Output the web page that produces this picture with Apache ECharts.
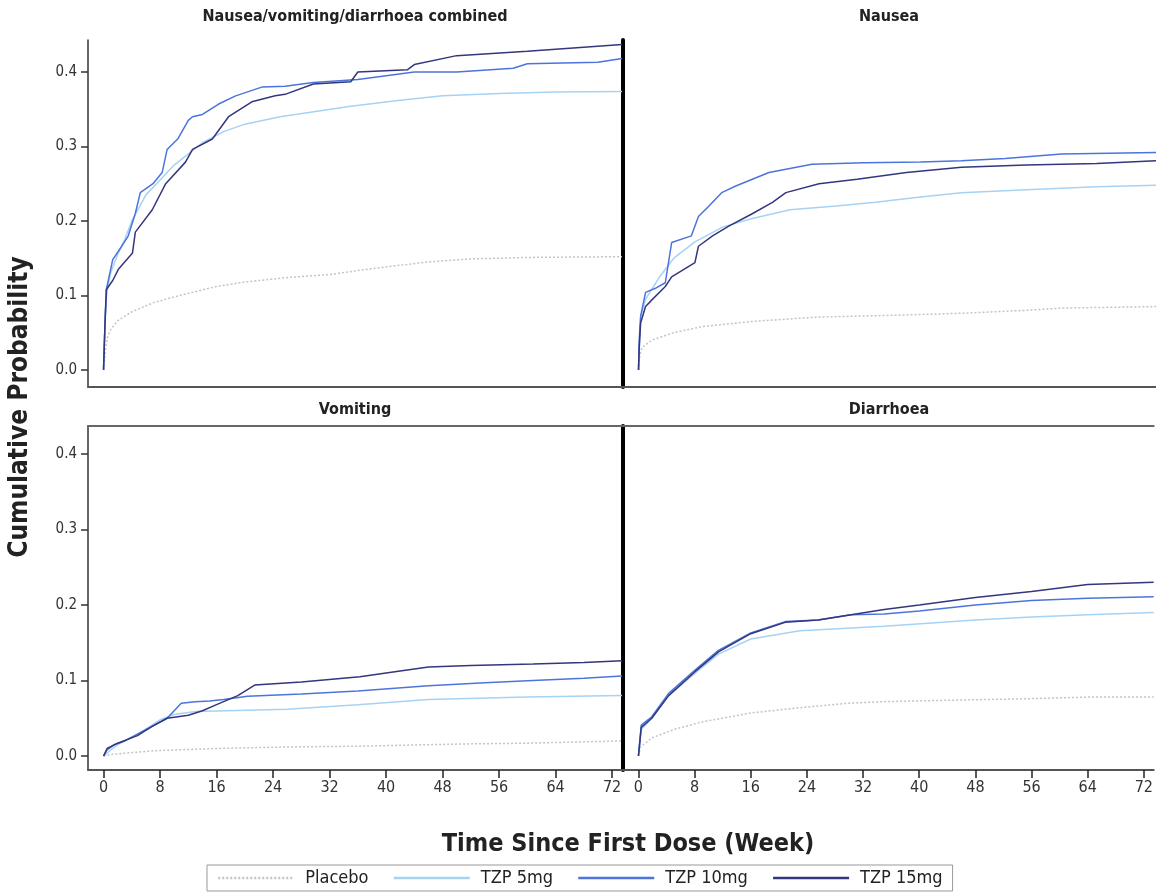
<!DOCTYPE html>
<html style="height: 100%">
<head>
    <meta charset="UTF-8">
    <title>Cumulative probability</title>
</head>
<body style="height: 100%; margin: 0; background: #fff">
<div id="container" style="width: 1156px; height: 894px"></div>
<script src="https://cdn.jsdelivr.net/npm/echarts@6/dist/echarts.min.js"></script>
<script>
    // tick values
    var weekTicks = [0, 8, 16, 24, 32, 40, 48, 56, 64, 72];
    var probTicks = [0, 0.1, 0.2, 0.3, 0.4];

    var panelTitles = ['Nausea/vomiting/diarrhoea combined', 'Nausea', 'Vomiting', 'Diarrhoea'];
    var groupNames = ['Placebo', 'TZP 5mg', 'TZP 10mg', 'TZP 15mg'];

    // [week, cumulative probability]
    var combinedPlacebo = [[0,0],[0.3,0.03],[0.6,0.045],[1,0.054],[2,0.066],[4,0.078],[7,0.09],[10,0.098],[13,0.105],[16,0.112],[20,0.118],[26,0.124],[32,0.128],[38,0.136],[46,0.145],[52,0.149],[60,0.151],[73.4,0.152]];
    var combined5 = [[0,0],[0.3,0.09],[0.6,0.11],[1,0.13],[2,0.155],[3,0.175],[4,0.2],[6,0.235],[8,0.255],[10,0.275],[12,0.29],[14,0.305],[17,0.32],[20,0.33],[25,0.34],[30,0.347],[35,0.354],[42,0.362],[48,0.368],[56,0.371],[64,0.373],[73.4,0.374]];
    var combined10 = [[0,0],[0.2,0.06],[0.4,0.108],[1.3,0.148],[2.5,0.165],[3.5,0.18],[4.5,0.21],[5.2,0.238],[7,0.25],[8.3,0.265],[9,0.296],[10.5,0.31],[12,0.335],[12.6,0.34],[14,0.343],[16.3,0.357],[18.7,0.368],[22.5,0.38],[25.7,0.381],[29.7,0.386],[36,0.39],[44,0.4],[50,0.4],[58,0.405],[60,0.411],[70,0.413],[73.4,0.418]];
    var combined15 = [[0,0],[0.2,0.06],[0.4,0.108],[1.3,0.12],[2.1,0.135],[4.1,0.157],[4.5,0.185],[6.9,0.215],[8.8,0.25],[11.6,0.279],[12.6,0.296],[15.4,0.31],[17.7,0.34],[21,0.36],[24.3,0.368],[25.7,0.37],[29.7,0.384],[35,0.387],[36,0.4],[43,0.403],[44,0.41],[50,0.422],[60,0.428],[66,0.432],[73.4,0.437]];

    var nauseaPlacebo = [[0,0],[0.2,0.02],[0.5,0.03],[1.9,0.04],[5,0.05],[9,0.058],[16,0.065],[25.6,0.071],[35,0.073],[45.8,0.076],[55,0.08],[60,0.083],[73.4,0.085]];
    var nausea5 = [[0,0],[0.3,0.07],[1,0.095],[3,0.125],[5,0.15],[8,0.172],[12,0.192],[16,0.203],[21.5,0.215],[28,0.22],[33.6,0.225],[40,0.232],[45.8,0.238],[55,0.242],[65,0.246],[73.4,0.248]];
    var nausea10 = [[0,0],[0.1,0.04],[0.3,0.072],[1,0.104],[2.5,0.11],[3.8,0.117],[4.7,0.171],[7.5,0.18],[8.5,0.206],[10,0.22],[11.8,0.238],[13.8,0.247],[18.5,0.265],[24.6,0.276],[32,0.278],[40,0.279],[45.8,0.281],[52,0.284],[60,0.29],[73.4,0.292]];
    var nausea15 = [[0,0],[0.1,0.03],[0.3,0.063],[1,0.085],[1.9,0.094],[3.8,0.112],[4.7,0.125],[8,0.144],[8.5,0.166],[10.5,0.18],[12.8,0.193],[16,0.209],[19,0.225],[20.9,0.238],[25.6,0.25],[31,0.256],[38,0.265],[45.8,0.272],[55,0.275],[65,0.277],[73.4,0.281]];

    var vomitingPlacebo = [[0,0],[1,0.002],[3.3,0.004],[7.2,0.007],[16,0.01],[26,0.012],[36,0.013],[51,0.016],[60,0.017],[73.4,0.02]];
    var vomiting5 = [[0,0],[1,0.008],[2,0.015],[5,0.03],[8,0.048],[10,0.055],[13,0.059],[26,0.062],[36,0.068],[46,0.075],[60,0.078],[73.4,0.08]];
    var vomiting10 = [[0,0],[0.5,0.008],[1.5,0.015],[3,0.02],[5,0.03],[7,0.04],[9,0.05],[10,0.06],[11,0.07],[13,0.072],[15,0.073],[17,0.075],[20.4,0.079],[28,0.082],[36,0.086],[46,0.093],[54,0.097],[60.8,0.1],[68,0.103],[73.4,0.106]];
    var vomiting15 = [[0,0],[0.5,0.01],[2,0.017],[4.8,0.027],[7,0.04],[9,0.05],[12,0.054],[14,0.06],[16,0.068],[19,0.08],[21.4,0.094],[28,0.098],[36.3,0.105],[40,0.11],[46,0.118],[52,0.12],[60.8,0.122],[68,0.124],[73.4,0.126]];

    var diarrhoeaPlacebo = [[0,0],[0.3,0.012],[1.9,0.024],[5,0.035],[9,0.045],[16,0.057],[23,0.064],[30,0.07],[35,0.072],[45,0.074],[56,0.076],[64,0.078],[73.4,0.078]];
    var diarrhoea5 = [[0,0],[0.4,0.035],[1.9,0.05],[4.3,0.08],[8.1,0.11],[11.4,0.135],[16,0.155],[23,0.166],[35,0.172],[48,0.18],[56,0.184],[64,0.187],[73.4,0.19]];
    var diarrhoea10 = [[0,0],[0.4,0.041],[1.9,0.052],[4.3,0.083],[8.1,0.114],[11.4,0.14],[16,0.163],[20.9,0.178],[25.6,0.18],[30.3,0.187],[35,0.188],[40,0.192],[48,0.2],[56,0.206],[64,0.209],[73.4,0.211]];
    var diarrhoea15 = [[0,0],[0.4,0.038],[1.9,0.05],[4.3,0.08],[8.1,0.112],[11.4,0.138],[16,0.162],[20.9,0.177],[25.6,0.18],[30.3,0.187],[35,0.194],[40,0.2],[48,0.21],[56,0.218],[64,0.227],[73.4,0.23]];
</script>
<script>
    var panels = [
        [combinedPlacebo, combined5, combined10, combined15],
        [nauseaPlacebo, nausea5, nausea10, nausea15],
        [vomitingPlacebo, vomiting5, vomiting10, vomiting15],
        [diarrhoeaPlacebo, diarrhoea5, diarrhoea10, diarrhoea15]
    ];
    var groupStyle = [
        {color: '#c4c4c4', type: [2, 2], width: 1.5},
        {color: '#a6d2f4', type: 'solid', width: 1.5},
        {color: '#4c74dc', type: 'solid', width: 1.5},
        {color: '#34367e', type: 'solid', width: 1.5}
    ];
    var narrow = "'Liberation Sans Narrow', 'DejaVu Sans Condensed', 'Liberation Sans', sans-serif";

    var grids = [
        {left: 88, top: 40, width: 534, height: 347},
        {left: 623, top: 40, width: 533, height: 347},
        {left: 88, top: 426, width: 534, height: 344},
        {left: 623, top: 426, width: 533, height: 344}
    ];

    var xAxes = [];
    var yAxes = [];
    var series = [];
    for (var g = 0; g < 4; g++) {
        var bottomRow = g >= 2;
        xAxes.push({
            type: 'value', gridIndex: g, min: -2.2, max: 73.4, position: 'bottom',
            axisLine: {show: true, onZero: false, lineStyle: {color: '#555', width: 2}},
            axisTick: {show: bottomRow, customValues: weekTicks, length: 8, lineStyle: {color: '#222', width: 1.5}},
            axisLabel: {show: bottomRow, customValues: weekTicks, margin: 10, color: '#333', fontSize: 16, fontFamily: narrow},
            splitLine: {show: false}
        });
        yAxes.push({
            type: 'value', gridIndex: g, position: 'left',
            min: bottomRow ? -0.0185 : -0.023,
            max: bottomRow ? 0.437 : 0.443,
            axisLine: g % 2 == 0
                ? {show: true, onZero: false, lineStyle: {color: '#333', width: 1.5}}
                : {show: true, onZero: false, lineStyle: {color: '#000', width: 4}},
            axisTick: {show: g % 2 == 0, customValues: probTicks, length: 7, lineStyle: {color: '#333', width: 1.5}},
            axisLabel: {show: g % 2 == 0, customValues: probTicks, margin: 11, color: '#333', fontSize: 15, fontFamily: narrow,
                formatter: function (v) { return v.toFixed(1); }},
            splitLine: {show: false}
        });
        for (var s = 0; s < 4; s++) {
            series.push({
                name: groupNames[s],
                type: 'line',
                xAxisIndex: g,
                yAxisIndex: g,
                data: panels[g][s],
                symbol: 'none',
                silent: true,
                lineStyle: groupStyle[s],
                itemStyle: {color: groupStyle[s].color},
                z: 2 + s
            });
        }
    }
    // top border of the lower panels
    xAxes.push({type: 'value', gridIndex: 2, position: 'top', min: -2.2, max: 73.4,
        axisLine: {show: true, onZero: false, lineStyle: {color: '#666', width: 2}}, axisTick: {show: false}, axisLabel: {show: false}, splitLine: {show: false}});
    xAxes.push({type: 'value', gridIndex: 3, position: 'top', min: -2.2, max: 73.4,
        axisLine: {show: true, onZero: false, lineStyle: {color: '#666', width: 2}}, axisTick: {show: false}, axisLabel: {show: false}, splitLine: {show: false}});

    var titleStyle = {fill: '#222', font: 'bold 16px ' + narrow, textAlign: 'center', textVerticalAlign: 'middle'};
    var graphics = [
        {type: 'text', x: 355, y: 17, style: Object.assign({text: panelTitles[0]}, titleStyle)},
        {type: 'text', x: 889, y: 17, style: Object.assign({text: panelTitles[1]}, titleStyle)},
        {type: 'text', x: 355, y: 410, style: Object.assign({text: panelTitles[2]}, titleStyle)},
        {type: 'text', x: 889, y: 410, style: Object.assign({text: panelTitles[3]}, titleStyle)},
        {type: 'text', x: 628, y: 844, style: {text: 'Time Since First Dose (Week)', fill: '#222', font: 'bold 25px ' + narrow, textAlign: 'center', textVerticalAlign: 'middle'}},
        {type: 'text', x: 20, y: 407, rotation: Math.PI / 2, style: {text: 'Cumulative Probability', fill: '#222', font: 'bold 26px ' + narrow, textAlign: 'center', textVerticalAlign: 'middle'}}
    ];

    var myChart = echarts.init(document.getElementById('container'));
    myChart.setOption({
        animation: false,
        backgroundColor: '#fff',
        grid: grids,
        xAxis: xAxes,
        yAxis: yAxes,
        series: series,
        legend: {
            data: groupNames,
            left: 207, top: 865,
            orient: 'horizontal',
            itemWidth: 76, itemHeight: 12, itemGap: 24,
            padding: [4, 10, 4, 10],
            borderColor: '#999', borderWidth: 1,
            itemStyle: {opacity: 0},
            lineStyle: {width: 2.5},
            textStyle: {color: '#222', fontSize: 18, fontFamily: narrow, padding: [0, 0, 0, 6]},
            selectedMode: false
        },
        graphic: graphics
    });
</script>
</body>
</html>
